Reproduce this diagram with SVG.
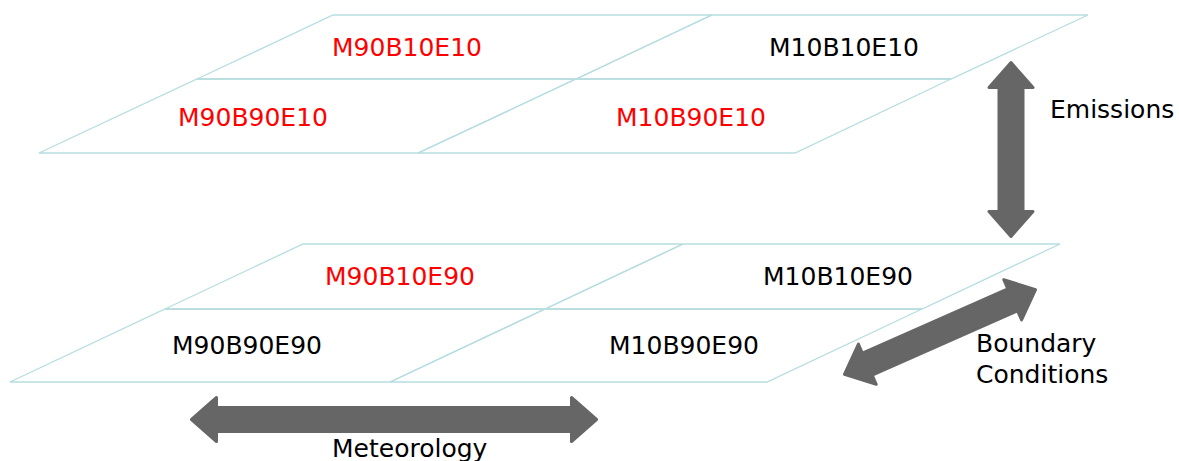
<svg xmlns="http://www.w3.org/2000/svg" width="1179" height="461" viewBox="0 0 1179 461">
<style>
.cell{fill:none;stroke:#b7dde0;stroke-width:1.3;stroke-linejoin:miter}
.lbl{font-family:"DejaVu Sans","Liberation Sans",sans-serif;font-size:25px}
.red{fill:#ff0000}
.blk{fill:#000000}
.arrow{fill:#666666;stroke:#666666;stroke-width:3;stroke-linejoin:round}
</style>
<rect width="1179" height="461" fill="#ffffff"/>
<g id="top-plane">
<g id="M90B10E10"><polygon class="cell" points="333,15 712,15 576,79 197,79"/><text class="lbl red" x="332" y="56">M90B10E10</text></g>
<g id="M10B10E10"><polygon class="cell" points="712,15 1088,15 951,79 576,79"/><text class="lbl blk" x="769" y="56">M10B10E10</text></g>
<g id="M90B90E10"><polygon class="cell" points="197,79 576,79 418,153 39,153"/><text class="lbl red" x="178" y="126">M90B90E10</text></g>
<g id="M10B90E10"><polygon class="cell" points="576,79 951,79 795,153 418,153"/><text class="lbl red" x="616" y="126">M10B90E10</text></g>
</g>
<g id="bottom-plane">
<g id="M90B10E90"><polygon class="cell" points="303,244 683,244 545,309 165,309"/><text class="lbl red" x="325" y="285">M90B10E90</text></g>
<g id="M10B10E90"><polygon class="cell" points="683,244 1060,244 922,309 545,309"/><text class="lbl blk" x="763" y="285">M10B10E90</text></g>
<g id="M90B90E90"><polygon class="cell" points="165,309 545,309 390,382 10,382"/><text class="lbl blk" x="172" y="354">M90B90E90</text></g>
<g id="M10B90E90"><polygon class="cell" points="545,309 922,309 767,382 390,382"/><text class="lbl blk" x="609" y="354">M10B90E90</text></g>
</g>
<g id="connectors">
<g id="emissions-arrow">
<path class="arrow" transform="translate(1011,149.5) rotate(90)" d="M-87,0 L-62,-22 L-62,-12 L62,-12 L62,-22 L87,0 L62,22 L62,12 L-62,12 L-62,22 Z"/>
<text class="lbl blk" x="1050" y="118">Emissions</text>
</g>
<g id="boundary-arrow">
<path class="arrow" transform="translate(940,332) rotate(-23.9)" d="M-104.5,0 L-79.5,-22 L-79.5,-12 L79.5,-12 L79.5,-22 L104.5,0 L79.5,22 L79.5,12 L-79.5,12 L-79.5,22 Z"/>
<text class="lbl blk" x="976" y="352">Boundary</text>
<text class="lbl blk" x="976" y="383">Conditions</text>
</g>
<g id="meteorology-arrow">
<path class="arrow" transform="translate(394,419.5)" d="M-202.5,0 L-177.5,-22 L-177.5,-12 L177.5,-12 L177.5,-22 L202.5,0 L177.5,22 L177.5,12 L-177.5,12 L-177.5,22 Z"/>
<text class="lbl blk" x="332" y="457">Meteorology</text>
</g>
</g>
</svg>
